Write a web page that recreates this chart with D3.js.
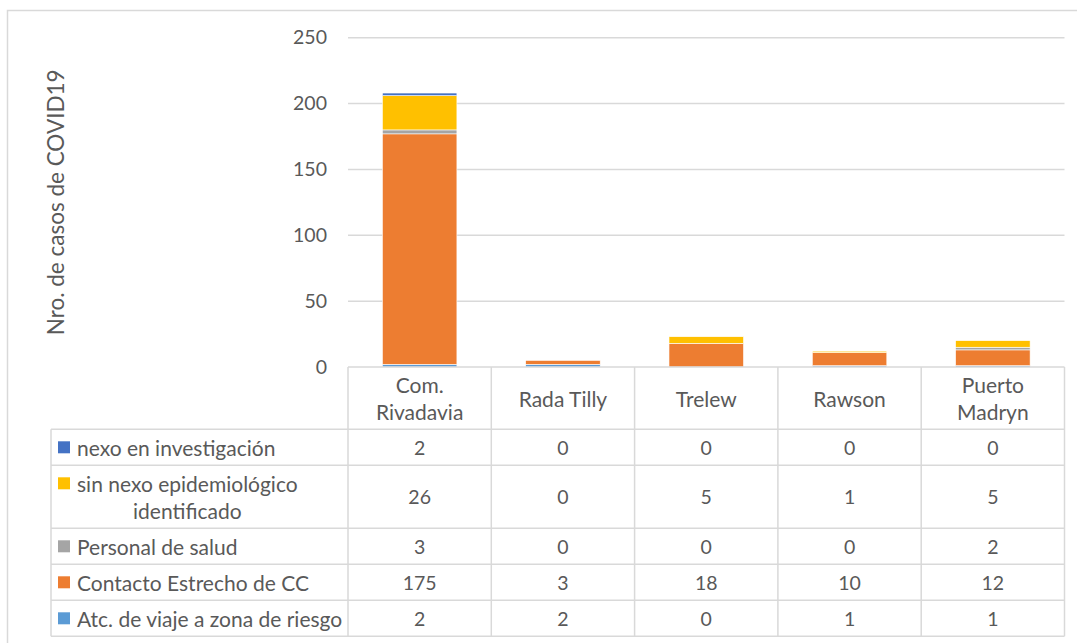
<!DOCTYPE html>
<html>
<head>
<meta charset="utf-8">
<script src="https://cdn.jsdelivr.net/npm/d3@7"></script>
<style>
  body { margin: 0; background: #fff; }
  text { font-family: Lato, "Open Sans", sans-serif; fill: #595959; }
</style>
</head>
<body>
<svg id="chart" width="1077" height="643"></svg>
<script>

var categories = ["Com.\nRivadavia", "Rada Tilly", "Trelew", "Rawson", "Puerto\nMadryn"];

// series in stack order, bottom first
var seriesNames = ["Atc. de viaje a zona de riesgo", "Contacto Estrecho de CC", "Personal de salud", "sin nexo epidemiológico\nidentificado", "nexo en investigación"];
var atcViaje     = [2, 2, 0, 1, 1];
var contacto     = [175, 3, 18, 10, 12];
var personal     = [3, 0, 0, 0, 2];
var sinNexo      = [26, 0, 5, 1, 5];
var nexoInvest   = [2, 0, 0, 0, 0];
var yTicks = [0, 50, 100, 150, 200, 250];

var seriesValues = [atcViaje, contacto, personal, sinNexo, nexoInvest];
var colors = ["#5B9BD5", "#ED7D31", "#A5A5A5", "#FFC000", "#4472C4"];

var svg = d3.select("#chart");
var numSize = 19.5;   // digits
var textSize = 21;    // words
var lineGap = 27;
var gridColor = "#D9D9D9";

var plot = {left: 348, right: 1064.5, top: 37.7, bottom: 367};
var tableLeft = 51;

// outer chart border (right/bottom run off the picture)
svg.append("rect")
  .attr("x", 7.5).attr("y", 10.5)
  .attr("width", 1090).attr("height", 650)
  .attr("fill", "none").attr("stroke", gridColor).attr("stroke-width", 1.5);

var x = d3.scaleBand()
  .domain(categories.map(function(d, i) { return i; }))
  .range([plot.left, plot.right])
  .paddingInner(0.48)
  .paddingOuter(0.24);

var step = (plot.right - plot.left) / categories.length;

var y = d3.scaleLinear().domain([0, 250]).range([plot.bottom, plot.top]);

// gridlines
svg.append("g").selectAll("line")
  .data(yTicks.filter(function(t) { return t > 0; }))
  .enter().append("line")
  .attr("x1", plot.left).attr("x2", plot.right)
  .attr("y1", function(d) { return y(d); }).attr("y2", function(d) { return y(d); })
  .attr("stroke", gridColor).attr("stroke-width", 1.5);

// y axis labels
var yAxis = svg.append("g")
  .attr("transform", "translate(" + plot.left + ",0)")
  .call(d3.axisLeft(y).tickValues(yTicks).tickSize(0).tickPadding(21));
yAxis.select(".domain").remove();
yAxis.selectAll("text")
  .style("font-family", "Lato, sans-serif")
  .style("font-size", numSize + "px")
  .attr("fill", "#595959");

svg.append("text")
  .attr("transform", "translate(55," + ((plot.top + plot.bottom) / 2) + ") rotate(-90)")
  .attr("text-anchor", "middle")
  .attr("dominant-baseline", "central")
  .style("font-size", "22.5px")
  .text("Nro. de casos de COVID19");

// stacked bars
var table = categories.map(function(c, i) {
  var row = {idx: i};
  seriesValues.forEach(function(s, k) { row["s" + k] = s[i]; });
  return row;
});
var stack = d3.stack().keys(seriesValues.map(function(s, k) { return "s" + k; }));
var stacked = stack(table);

svg.append("g").selectAll("g")
  .data(stacked)
  .enter().append("g")
  .attr("fill", function(d, k) { return colors[k]; })
  .selectAll("rect")
  .data(function(d) { return d; })
  .enter().append("rect")
  .attr("x", function(d) { return x(d.data.idx); })
  .attr("width", x.bandwidth())
  .attr("y", function(d) { return y(d[1]); })
  .attr("height", function(d) { return y(d[0]) - y(d[1]); })
  .attr("stroke", "#fff")
  .attr("stroke-width", 0.6);

// data table
var rowLines = seriesNames.slice().reverse().map(function(n) { return n.split("\n").length; });
var rowValues = seriesValues.slice().reverse();
var rowColors = colors.slice().reverse();
var rowNames = seriesNames.slice().reverse();
var headerBottom = 429.3;
var rowTops = [headerBottom];
rowLines.forEach(function(n) { rowTops.push(rowTops[rowTops.length - 1] + (n == 1 ? 36 : 63)); });
var tableBottom = rowTops[rowTops.length - 1];

var tbl = svg.append("g");

// x axis line / header top
tbl.append("line")
  .attr("x1", plot.left).attr("x2", plot.right)
  .attr("y1", plot.bottom).attr("y2", plot.bottom)
  .attr("stroke", gridColor).attr("stroke-width", 1.5);

tbl.selectAll(".hline")
  .data(rowTops)
  .enter().append("line")
  .attr("x1", tableLeft).attr("x2", plot.right)
  .attr("y1", function(d) { return d; }).attr("y2", function(d) { return d; })
  .attr("stroke", gridColor).attr("stroke-width", 1.5);

tbl.selectAll(".vline")
  .data(d3.range(categories.length + 1))
  .enter().append("line")
  .attr("x1", function(i) { return plot.left + i * step; })
  .attr("x2", function(i) { return plot.left + i * step; })
  .attr("y1", plot.bottom).attr("y2", tableBottom)
  .attr("stroke", gridColor).attr("stroke-width", 1.5);

tbl.append("line")
  .attr("x1", tableLeft).attr("x2", tableLeft)
  .attr("y1", headerBottom).attr("y2", tableBottom)
  .attr("stroke", gridColor).attr("stroke-width", 1.5);

// header labels
categories.forEach(function(c, i) {
  var lines = c.split("\n");
  var cy = (plot.bottom + headerBottom) / 2;
  var t = tbl.append("text")
    .attr("text-anchor", "middle")
    .style("font-size", textSize + "px");
  lines.forEach(function(l, j) {
    t.append("tspan")
      .attr("x", x(i) + x.bandwidth() / 2)
      .attr("y", cy + (j - (lines.length - 1) / 2) * lineGap)
      .attr("dominant-baseline", "central")
      .text(l);
  });
});

// legend rows and values
rowNames.forEach(function(name, r) {
  var top = rowTops[r], bottom = rowTops[r + 1];
  var cy = (top + bottom) / 2;
  var lines = name.split("\n");
  var firstY = cy - (lines.length - 1) / 2 * lineGap;

  tbl.append("rect")
    .attr("x", 58).attr("y", firstY - 6)
    .attr("width", 12).attr("height", 12)
    .attr("fill", rowColors[r]);

  var first = tbl.append("text")
    .attr("x", 77).attr("y", firstY)
    .attr("dominant-baseline", "central")
    .style("font-size", textSize + "px")
    .text(lines[0]);
  var mid = 77 + first.node().getComputedTextLength() / 2;
  for (var j = 1; j < lines.length; j++) {
    tbl.append("text")
      .attr("x", mid).attr("y", firstY + j * lineGap)
      .attr("text-anchor", "middle")
      .attr("dominant-baseline", "central")
      .style("font-size", textSize + "px")
      .text(lines[j]);
  }

  rowValues[r].forEach(function(v, i) {
    tbl.append("text")
      .attr("x", x(i) + x.bandwidth() / 2).attr("y", cy)
      .attr("text-anchor", "middle")
      .attr("dominant-baseline", "central")
      .style("font-size", numSize + "px")
      .text(v);
  });
});

</script>
</body>
</html>
